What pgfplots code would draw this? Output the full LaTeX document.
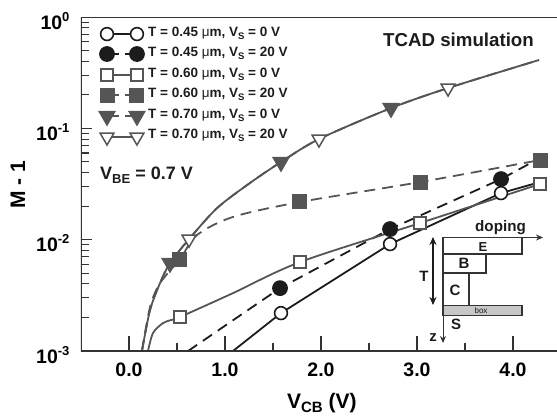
\documentclass[border=0pt]{standalone}
\usepackage{pgfplots}
\usepackage{fontspec}
\setmainfont{Liberation Sans}
\pgfplotsset{compat=1.18}
\usetikzlibrary{arrows.meta}
\definecolor{blk}{HTML}{1C1C1C}
\definecolor{gry}{HTML}{555555}
\definecolor{axc}{HTML}{333333}
\newcommand\ylab[1]{\fontsize{19.5}{20}\selectfont\bfseries 10\raisebox{8pt}{\fontsize{13}{13}\selectfont\bfseries #1}}
\newcommand\leg[2]{\fontsize{13.5}{14}\selectfont\bfseries T = #1 {\mdseries μ}m, V\raisebox{-2.5pt}{\fontsize{9.5}{10}\selectfont S} = #2 V}
\tikzset{
  dsh/.style={dash pattern=on 11pt off 7pt},
  cO/.style={blk,line width=1.8pt,mark=*,mark size=6.4pt,mark options={solid,fill=white,line width=1.6pt}},
  cF/.style={blk,line width=1.8pt,dsh,mark=*,mark size=7pt,mark options={solid,fill=blk}},
  sO/.style={gry,line width=1.8pt,mark=square*,mark size=6pt,mark options={solid,fill=white,line width=1.6pt}},
  sF/.style={gry,line width=1.8pt,dsh,mark=square*,mark size=6.6pt,mark options={solid,fill=gry}},
  tF/.style={gry,line width=1.8pt,dsh,mark=triangle*,mark size=8.6pt,mark options={solid,fill=gry,rotate=180}},
  tO/.style={gry,line width=1.8pt,mark=triangle*,mark size=8pt,mark options={solid,fill=white,rotate=180,line width=1.5pt}},
}
\begin{document}
\begin{tikzpicture}
\useasboundingbox (-81pt,-69pt) rectangle (476pt,351pt);
\begin{axis}[
  at={(0pt,0pt)},anchor=south west,
  scale only axis,width=476pt,height=334pt,
  ymode=log,log basis y=10,
  xmin=-0.5,xmax=4.458,ymin=1e-3,ymax=1,
  xtick pos=bottom,ytick pos=left,
  axis line style={draw=none},
  xtick={0,1,2,3,4},xticklabels={0.0,1.0,2.0,3.0,4.0},
  ytick={1e-3,1e-2,1e-1,1},
  yticklabels={\ylab{-3},\ylab{-2},\ylab{-1},\ylab{0}},
  major tick length=0pt,minor tick length=0pt,
  xticklabel style={font=\fontsize{19.5}{20}\selectfont\bfseries,anchor=base,yshift=-25pt},
  yticklabel style={anchor=base east,yshift=-12pt,xshift=-8pt},
  xlabel={V\raisebox{-4pt}{\fontsize{15}{15}\selectfont CB} (V)},
  ylabel={M - 1},
  xlabel style={font=\fontsize{21}{22}\selectfont\bfseries,at={(axis description cs:0.506,-0.1707)},anchor=base},
  ylabel style={font=\fontsize{21}{22}\selectfont\bfseries,at={(axis description cs:-0.1176,0.497)},anchor=base,rotate=0},
]
% T = 0.45, VS = 0
\addplot[cO,mark indices={2,3,4}] coordinates {(1.083,1e-3)(1.583,2.19e-3)(2.719,9.13e-3)(3.875,2.62e-2)(4.28,3.29e-2)};
% T = 0.45, VS = 20
\addplot[cF,mark indices={2,3,4}] coordinates {(0.615,1e-3)(1.573,3.67e-3)(2.719,1.245e-2)(3.875,3.50e-2)(4.28,5.41e-2)};
% T = 0.60, VS = 0
\addplot[sO,smooth,mark indices={5,7,8,9}] coordinates {(0.198,1e-3)(0.25,1.45e-3)(0.354,1.78e-3)(0.44,1.90e-3)(0.531,2.02e-3)(1.083,3.31e-3)(1.781,6.29e-3)(3.031,1.41e-2)(4.281,3.16e-2)};
% T = 0.60, VS = 20
\addplot[sF,smooth,mark indices={4,7,8,9}] coordinates {(0.135,1e-3)(0.219,2.48e-3)(0.323,4.07e-3)(0.531,6.69e-3)(0.708,1.1e-2)(1.083,1.6e-2)(1.781,2.18e-2)(3.031,3.29e-2)(4.281,5.19e-2)};
% T = 0.70, VS = 0
\addplot[tF,smooth,mark indices={4,8,10}] coordinates {(0.135,1e-3)(0.219,2.33e-3)(0.323,4.07e-3)(0.427,6.17e-3)(0.625,1.01e-2)(0.917,1.92e-2)(1.26,3.23e-2)(1.583,4.98e-2)(1.979,8.01e-2)(2.729,1.52e-1)(3.323,2.30e-1)(4.271,4.11e-1)};
% T = 0.70, VS = 20
\addplot[tO,smooth,mark indices={5,9,11}] coordinates {(0.135,1e-3)(0.219,2.33e-3)(0.323,4.07e-3)(0.427,6.17e-3)(0.625,1.01e-2)(0.917,1.92e-2)(1.26,3.23e-2)(1.583,4.98e-2)(1.979,8.01e-2)(2.729,1.52e-1)(3.323,2.30e-1)(4.271,4.11e-1)};
% legend samples
\addplot[cO] coordinates {(-0.229,0.703)(0.083,0.703)};
\addplot[cF,dash pattern=on 9pt off 6pt,dash phase=-3pt] coordinates {(-0.229,0.465)(0.083,0.465)};
\addplot[sO] coordinates {(-0.229,0.301)(0.083,0.301)};
\addplot[sF,dash pattern=on 9pt off 6pt,dash phase=-3pt] coordinates {(-0.229,0.199)(0.083,0.199)};
\addplot[tF,dash pattern=on 9pt off 6pt,dash phase=-3pt] coordinates {(-0.229,0.129)(0.083,0.129)};
\addplot[tO] coordinates {(-0.229,0.0835)(0.083,0.0835)};
\draw[axc,line width=1.3pt] (rel axis cs:1,1) -- (rel axis cs:0,1) -- (rel axis cs:0,0) -- (rel axis cs:1,0);
\end{axis}
% annotations, in pixel coordinates of the reference
\begin{scope}[shift={(-81pt,351pt)},x=1pt,y=-1pt,text=blk]
% tick marks
\begin{scope}[axc,line width=1.1pt]
\foreach \k in {0,1,2,3,4} \draw (129+96*\k,351) -- (129+96*\k,336);
\foreach \k in {0,1,2,3} \draw (177+96*\k,351) -- (177+96*\k,343);
\foreach \d in {1,2} \draw (81,{17+111.3*\d}) -- (92,{17+111.3*\d});
\foreach \d in {0,1,2} \foreach \m in {2,...,9} \draw (81,{17+111.3*(\d+1-log10(\m))}) -- (89,{17+111.3*(\d+1-log10(\m))});
\end{scope}
\foreach \yy/\tt/\vv in {37/0.45/0,57/0.45/20,78/0.60/0,98/0.60/20,119/0.70/0,139/0.70/20}{
  \node[anchor=base west,inner sep=0pt] at (148,\yy) {\leg{\tt}{\vv}};
}
\node[anchor=base west,inner sep=0pt,font=\fontsize{18.7}{20}\selectfont\bfseries] at (383,47) {TCAD simulation};
\node[anchor=base west,inner sep=0pt,font=\fontsize{18}{20}\selectfont\bfseries] at (100,180) {V\raisebox{-4pt}{\fontsize{13}{13}\selectfont BE} = 0.7 V};
% inset
\draw[axc,line width=1.2pt] (443,237.5) rectangle (522,254);
\draw[axc,line width=1.2pt] (443,254) rectangle (486,273);
\draw[axc,line width=1.2pt] (443,273) rectangle (469,305.7);
\draw[axc,line width=1.2pt,fill=black!22] (443,305.7) rectangle (522,315.7);
\draw[axc,line width=1pt,-{Stealth[length=7pt,width=6pt]}] (522,237.5) -- (543,237.5);
\draw[axc,line width=1pt,-{Stealth[length=7pt,width=6pt]}] (443,316) -- (443,343);
\draw[blk,line width=1.1pt,{Stealth[length=8pt,width=7pt]}-{Stealth[length=8pt,width=7pt]}] (433,237) -- (433,305);
\node[anchor=base west,inner sep=0pt,font=\fontsize{15.2}{16}\selectfont\bfseries] at (475,232) {doping};
\node[inner sep=0pt,font=\fontsize{13}{14}\selectfont\bfseries] at (483,247) {E};
\node[inner sep=0pt,font=\fontsize{15}{16}\selectfont\bfseries] at (464,263) {B};
\node[inner sep=0pt,font=\fontsize{15}{16}\selectfont\bfseries] at (455,290) {C};
\node[inner sep=0pt,font=\fontsize{8}{9}\selectfont] at (481,311) {box};
\node[inner sep=0pt,font=\fontsize{15}{16}\selectfont\bfseries] at (456,324) {S};
\node[inner sep=0pt,font=\fontsize{15}{16}\selectfont\bfseries] at (424,276) {T};
\node[inner sep=0pt,font=\fontsize{15}{16}\selectfont\bfseries] at (433,338) {z};
\end{scope}
\end{tikzpicture}
\end{document}
